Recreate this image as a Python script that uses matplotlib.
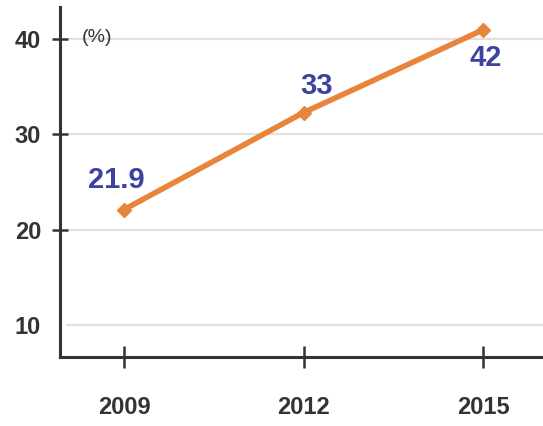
import matplotlib
matplotlib.use('Agg')
from matplotlib import pyplot as plt

years = [2009, 2012, 2015]
values = [22.1, 32.3, 41.0]
labels = ["21.9", "33", "42"]
yticks = [10, 20, 30, 40]

plt.rcParams['font.family'] = ['Liberation Sans', 'DejaVu Sans']

fig = plt.figure(figsize=(5.43, 4.26), dpi=100)
ax = fig.add_axes([60 / 543, 69 / 426, 483 / 543, 350 / 426])

for y in yticks:
    ax.axhline(y, xmin=0.015, xmax=1, color='#e0e0e0', lw=1.6, zorder=0)

ax.plot(years, values, color='#e8843c', lw=4, marker='D', markersize=7,
        markeredgecolor='#e8843c', zorder=3)

offsets = [(-8, 30), (13, 27), (3, -28)]
for x, y, t, off in zip(years, values, labels, offsets):
    ax.annotate(t, (x, y), xytext=off, textcoords='offset pixels',
                ha='center', va='center', fontsize=21, color='#3b42a0',
                fontweight='bold')

ax.text(2008.3, 40.2, "(%)", fontsize=14, color='#333333', va='center', ha='left')

ax.set_xlim(2007.93, 2016)
ax.set_ylim(6.6, 43.4)
ax.set_xticks(years)
ax.set_xticklabels([str(y) for y in years])
ax.set_yticks(yticks)

for s in ['top', 'right']:
    ax.spines[s].set_visible(False)
for s in ['left', 'bottom']:
    ax.spines[s].set_color('#333333')
    ax.spines[s].set_linewidth(2.2)

ax.tick_params(axis='y', direction='inout', length=11, width=1.8, color='#333333',
               labelsize=17, labelcolor='#333333', pad=8)
ax.tick_params(axis='x', direction='inout', length=16, width=1.8, color='#333333',
               labelsize=17, labelcolor='#333333', pad=20)
ax.yaxis.get_major_ticks()[0].tick1line.set_visible(False)
for lab in ax.get_xticklabels() + ax.get_yticklabels():
    lab.set_fontweight('bold')

plt.savefig('out.png', dpi=100)
